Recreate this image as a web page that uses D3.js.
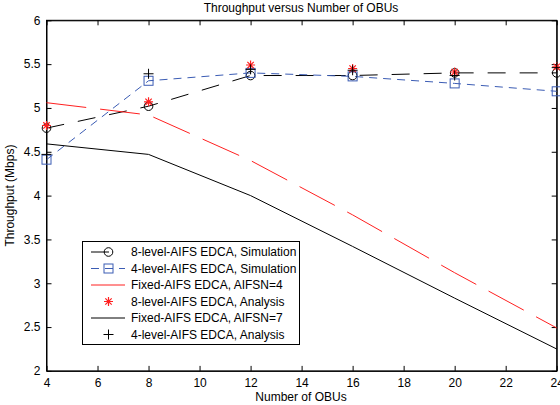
<!DOCTYPE html>
<html>
<head>
<meta charset="utf-8">
<script src="https://d3js.org/d3.v7.min.js"></script>
<style>
body { margin: 0; background: #fff; }
svg { font-family: 'Liberation Sans', Arial, sans-serif; }
</style>
</head>
<body>
<svg width="560" height="405"></svg>
<script>
var obus = [4, 8, 12, 16, 20, 24];
var sim8 = [4.77, 5.02, 5.37, 5.37, 5.40, 5.40];
var sim4 = [4.41, 5.31, 5.40, 5.36, 5.28, 5.19];
var fixed4 = [5.06, 4.92, 4.40, 3.78, 3.12, 2.49];
var ana8 = [4.80, 5.07, 5.49, 5.45, 5.41, 5.47];
var fixed7 = [4.59, 4.47, 4.00, 3.42, 2.83, 2.25];
var ana4 = [4.47, 5.39, 5.44, 5.43, 5.37, 5.46];
var xTicks = [4, 6, 8, 10, 12, 14, 16, 18, 20, 22, 24];
var yTicks = [2, 2.5, 3, 3.5, 4, 4.5, 5, 5.5, 6];
var legendLabels = ["8-level-AIFS EDCA, Simulation", "4-level-AIFS EDCA, Simulation",
  "Fixed-AIFS EDCA, AIFSN=4", "8-level-AIFS EDCA, Analysis",
  "Fixed-AIFS EDCA, AIFSN=7", "4-level-AIFS EDCA, Analysis"];

var svg = d3.select("svg");
var L = 46.5, R = 556.7, T = 20.3, B = 370.9;
var x = d3.scaleLinear().domain([4, 24]).range([L, R]);
var y = d3.scaleLinear().domain([2, 6]).range([B, T]);

var blue = "#3b5cb4", red = "#ff2020";

// series styles
var series = [
  {vals: sim8, color: "#000", dash: "18,14", line: true, marker: "circle", legLen: 30},
  {vals: sim4, color: blue, dash: "8,6", line: true, marker: "square", legLen: 34},
  {vals: fixed4, color: red, dash: "40,14", line: true, marker: null, legLen: 34},
  {vals: ana8, color: red, dash: null, line: false, marker: "star"},
  {vals: fixed7, color: "#000", dash: null, line: true, marker: null, legLen: 34},
  {vals: ana4, color: "#000", dash: null, line: false, marker: "plus"}
];

function drawMarker(g, type, cx, cy, color) {
  if (type == "circle") {
    g.append("circle").attr("cx", cx).attr("cy", cy).attr("r", 4.3)
      .attr("fill", "none").attr("stroke", color).attr("stroke-width", 1);
  } else if (type == "square") {
    g.append("rect").attr("x", cx - 4.5).attr("y", cy - 4.5).attr("width", 9).attr("height", 9)
      .attr("fill", "none").attr("stroke", color).attr("stroke-width", 1);
  } else if (type == "plus") {
    g.append("path").attr("d", "M" + (cx - 5) + "," + cy + "H" + (cx + 5) + "M" + cx + "," + (cy - 5) + "V" + (cy + 5))
      .attr("stroke", color).attr("stroke-width", 1);
  } else if (type == "star") {
    var s = 4.5, d = 3.2;
    g.append("path").attr("d", "M" + (cx - s) + "," + cy + "H" + (cx + s) + "M" + cx + "," + (cy - s) + "V" + (cy + s) +
        "M" + (cx - d) + "," + (cy - d) + "L" + (cx + d) + "," + (cy + d) +
        "M" + (cx - d) + "," + (cy + d) + "L" + (cx + d) + "," + (cy - d))
      .attr("stroke", color).attr("stroke-width", 1.2);
  }
}

// axes box
svg.append("rect").attr("x", L).attr("y", T).attr("width", R - L).attr("height", B - T)
  .attr("fill", "#fff").attr("stroke", "#000").attr("stroke-width", 1);

var xAxis = d3.axisBottom(x).tickValues(xTicks).tickSizeInner(-5).tickSizeOuter(0).tickPadding(8);
var yAxis = d3.axisLeft(y).tickValues(yTicks).tickSizeInner(-5).tickSizeOuter(0).tickPadding(8).tickFormat(d3.format("~g"));

var gx = svg.append("g").attr("transform", "translate(0," + B + ")").call(xAxis);
var gy = svg.append("g").attr("transform", "translate(" + L + ",0)").call(yAxis);
svg.append("g").attr("transform", "translate(0," + T + ")")
  .call(d3.axisTop(x).tickValues(xTicks).tickSizeInner(-5).tickSizeOuter(0).tickFormat(""));
svg.append("g").attr("transform", "translate(" + R + ",0)")
  .call(d3.axisRight(y).tickValues(yTicks).tickSizeInner(-5).tickSizeOuter(0).tickFormat(""));
svg.selectAll(".domain").attr("stroke", "#000");
svg.selectAll(".tick line").attr("stroke", "#000");
svg.selectAll(".tick text").attr("font-size", 12).attr("fill", "#000")
  .attr("font-family", "'Liberation Sans', Arial, sans-serif");
gy.selectAll(".tick text").attr("dx", 2);

// lines
var line = d3.line().x(function(d, i) { return x(obus[i]); }).y(function(d) { return y(d); });
var plot = svg.append("g");
series.forEach(function(s) {
  if (s.line) {
    plot.append("path").attr("d", line(s.vals)).attr("fill", "none")
      .attr("stroke", s.color).attr("stroke-width", 1)
      .attr("stroke-dasharray", s.dash);
  }
});
series.forEach(function(s) {
  if (s.marker) {
    s.vals.forEach(function(v, i) { drawMarker(plot, s.marker, x(obus[i]), y(v), s.color); });
  }
});

// title and labels
svg.append("text").attr("x", 301).attr("y", 12).attr("text-anchor", "middle")
  .attr("font-size", 12).text("Throughput versus Number of OBUs");
svg.append("text").attr("x", 301).attr("y", 401).attr("text-anchor", "middle")
  .attr("font-size", 12).text("Number of OBUs");
svg.append("text").attr("transform", "translate(14," + ((T + B) / 2) + ") rotate(-90)")
  .attr("text-anchor", "middle").attr("font-size", 12).text("Throughput (Mbps)");

// legend
var lg = svg.append("g");
lg.append("rect").attr("x", 82.5).attr("y", 241.5).attr("width", 217).attr("height", 103)
  .attr("fill", "#fff").attr("stroke", "#000").attr("stroke-width", 1);
series.forEach(function(s, i) {
  var ry = 252 + i * 16.5;
  if (s.line) {
    lg.append("line").attr("x1", 91).attr("x2", 91 + s.legLen).attr("y1", ry).attr("y2", ry)
      .attr("stroke", s.color).attr("stroke-width", 1)
      .attr("stroke-dasharray", s.color == red ? null : s.dash);
  }
  if (s.marker) drawMarker(lg, s.marker, 108.5, ry, s.color);
  lg.append("text").attr("x", 131).attr("y", ry + 4.3).attr("font-size", 12).text(legendLabels[i]);
});
</script>
</body>
</html>
